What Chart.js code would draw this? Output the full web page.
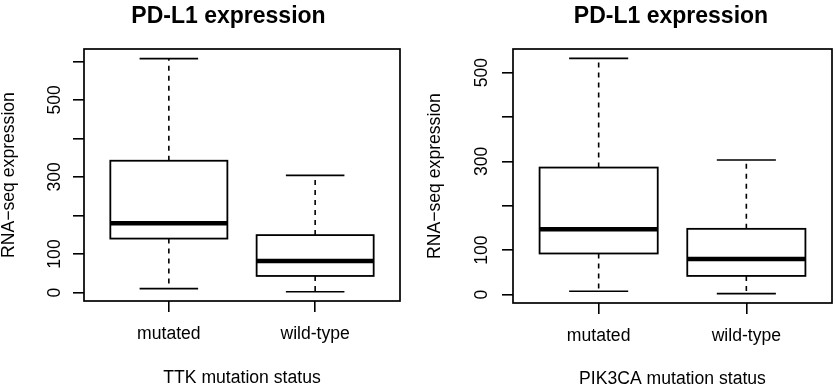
<!DOCTYPE html>
<html><head><meta charset="utf-8">
<script src="https://cdn.jsdelivr.net/npm/chart.js@4.4.1/dist/chart.umd.min.js"></script>
<style>
html,body{margin:0;padding:0;background:#fff;}
#wrap{position:relative;width:836px;height:388px;background:#fff;}
.panel{position:absolute;top:0;width:418px;height:388px;}
canvas{display:block;}
</style></head><body>
<div id="wrap">
<div class="panel" style="left:0"><canvas id="c1" width="418" height="388"></canvas></div>
<div class="panel" style="left:418px"><canvas id="c2" width="418" height="388"></canvas></div>
</div>
<script>
// ---- data ----
const categories = ['mutated', 'wild-type'];
const chartTitle = 'PD-L1 expression';
const yAxisTitle = 'RNA\u2212seq expression';
const xTitleTTK = 'TTK mutation status';
const xTitlePIK3CA = 'PIK3CA mutation status';
// five-number summaries: [lower whisker, Q1, median, Q3, upper whisker]
const ttkMutated = [10, 140, 180, 342, 607];
const ttkWild = [2, 43, 82, 149, 304];
const pikMutated = [7.5, 92.5, 147, 286, 532];
const pikWild = [2, 42, 80, 148, 303];
const ttkYTicks = [0, 100, 200, 300, 400, 500, 600];
const ttkYLabels = ['0', '100', '', '300', '', '500', ''];
const pikYTicks = [0, 100, 200, 300, 400, 500];
const pikYLabels = ['0', '100', '', '300', '', '500'];

const FONT = '"Liberation Sans", Arial, Helvetica, sans-serif';

const boxPlugin = {
  id: 'rbox',
  afterDraw(chart) {
    const cfg = chart.options.plugins.rbox;
    const ctx = chart.ctx;
    const xs = chart.scales.x, ys = chart.scales.y;
    const a = chart.chartArea;
    ctx.save();
    ctx.strokeStyle = '#000';
    ctx.fillStyle = '#000';
    // frame
    ctx.lineWidth = 1.7;
    ctx.setLineDash([]);
    ctx.strokeRect(a.left, a.top, a.right - a.left, a.bottom - a.top);
    // boxes
    chart.data.datasets[0].data.forEach(d => {
      const s = d.stats;
      const xc = xs.getPixelForValue(d.x);
      const xl = xs.getPixelForValue(d.x - 0.4), xr = xs.getPixelForValue(d.x + 0.4);
      const sl = xs.getPixelForValue(d.x - 0.2), sr = xs.getPixelForValue(d.x + 0.2);
      const yLo = ys.getPixelForValue(s[0]), yQ1 = ys.getPixelForValue(s[1]),
            yMed = ys.getPixelForValue(s[2]), yQ3 = ys.getPixelForValue(s[3]),
            yHi = ys.getPixelForValue(s[4]);
      // whiskers dashed
      ctx.lineWidth = 1.6;
      ctx.setLineDash([5, 5]);
      ctx.beginPath();
      ctx.moveTo(xc, yQ3); ctx.lineTo(xc, yHi);
      ctx.moveTo(xc, yQ1); ctx.lineTo(xc, yLo);
      ctx.stroke();
      ctx.setLineDash([]);
      // staples
      ctx.beginPath();
      ctx.moveTo(sl, yHi); ctx.lineTo(sr, yHi);
      ctx.moveTo(sl, yLo); ctx.lineTo(sr, yLo);
      ctx.stroke();
      // box
      ctx.lineWidth = 1.8;
      ctx.strokeRect(xl, yQ3, xr - xl, yQ1 - yQ3);
      // median
      ctx.lineWidth = 4.5;
      ctx.beginPath();
      ctx.moveTo(xl, yMed); ctx.lineTo(xr, yMed);
      ctx.stroke();
    });
    // y tick labels (rotated)
    ctx.font = '17.6px ' + FONT;
    ctx.textAlign = 'center';
    ctx.textBaseline = 'alphabetic';
    cfg.yTicks.forEach((v, i) => {
      const lbl = cfg.yLabels[i];
      if (!lbl) return;
      const y = ys.getPixelForValue(v);
      ctx.save();
      ctx.translate(cfg.yLabelX, y);
      ctx.rotate(-Math.PI / 2);
      ctx.fillText(lbl, 0, 0);
      ctx.restore();
    });
    // x tick labels
    categories.forEach((c, i) => {
      ctx.fillText(c, xs.getPixelForValue(i + 1), a.bottom + 38);
    });
    // x title
    ctx.fillText(cfg.xTitle, (a.left + a.right) / 2, cfg.xTitleY);
    // y title
    ctx.save();
    ctx.translate(cfg.yTitleX, (a.top + a.bottom) / 2);
    ctx.rotate(-Math.PI / 2);
    ctx.fillText(yAxisTitle, 0, 0);
    ctx.restore();
    // main title
    ctx.font = 'bold 23px ' + FONT;
    ctx.fillText(chartTitle, cfg.titleX, cfg.titleY);
    ctx.restore();
  }
};

function makeChart(id, series, yMin, yMax, yTicks, yLabels, pad, extra) {
  const data = series.map((s, i) => ({ x: i + 1, y: s[2], stats: s }));
  return new Chart(document.getElementById(id), {
    type: 'scatter',
    data: { datasets: [{ data, pointRadius: 0, pointHoverRadius: 0, showLine: false }] },
    options: {
      responsive: false, animation: false, devicePixelRatio: 1,
      events: [],
      layout: { padding: pad },
      plugins: {
        legend: { display: false }, tooltip: { enabled: false }, title: { display: false },
        rbox: Object.assign({ yTicks, yLabels }, extra)
      },
      scales: {
        x: {
          type: 'linear', min: 0.42, max: 2.58,
          afterBuildTicks: s => { s.ticks = categories.map((c, i) => ({ value: i + 1 })); },
          ticks: { display: false },
          grid: { drawOnChartArea: false, drawTicks: true, tickLength: 11, color: '#000', lineWidth: 1.6 },
          border: { display: false }
        },
        y: {
          type: 'linear', min: yMin, max: yMax,
          afterBuildTicks: s => { s.ticks = yTicks.map(v => ({ value: v })); },
          ticks: { display: false },
          grid: { drawOnChartArea: false, drawTicks: true, tickLength: 11, color: '#000', lineWidth: 1.6 },
          border: { display: false }
        }
      }
    },
    plugins: [boxPlugin]
  });
}

makeChart('c1', [ttkMutated, ttkWild], -22, 632, ttkYTicks, ttkYLabels,
  { left: 73, right: 18, top: 49, bottom: 76 },
  { yLabelX: 59.5, yTitleX: 13.5, titleX: 228.5, titleY: 22.5, xTitle: xTitleTTK, xTitleY: 382.5 });
makeChart('c2', [pikMutated, pikWild], -19, 553, pikYTicks, pikYLabels,
  { left: 84, right: 4, top: 49, bottom: 74 },
  { yLabelX: 69, yTitleX: 22, titleX: 253, titleY: 22.5, xTitle: xTitlePIK3CA, xTitleY: 384 });
</script>
</body></html>
